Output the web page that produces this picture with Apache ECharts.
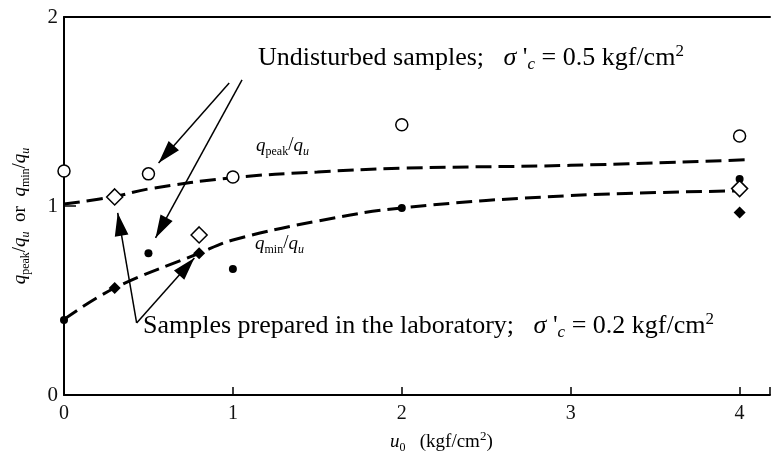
<!DOCTYPE html>
<html>
<head>
<meta charset="utf-8">
<script src="https://cdn.jsdelivr.net/npm/echarts@6/dist/echarts.min.js"></script>
<style>
  html, body { margin: 0; padding: 0; background: #fff; }
  #chart { width: 773px; height: 457px; }
</style>
</head>
<body>
<div id="chart"></div>
<script>
// x ticks (u0, kgf/cm2) and y ticks (q ratio)
const xTicks = [0, 1, 2, 3, 4]
const yTicks = [0, 1, 2]

// undisturbed samples: open circle = q_peak/q_u, filled dot = q_min/q_u
const undX = [0, 0.5, 1, 2, 4]
const undPeak = [1.185, 1.17, 1.153, 1.43, 1.37]
const undMin = [0.397, 0.75, 0.667, 0.99, 1.143]

// laboratory samples: open diamond = q_peak/q_u, filled diamond = q_min/q_u
const labX = [0.3, 0.8, 4]
const labPeak = [1.048, 0.847, 1.092]
const labMin = [0.566, 0.75, 0.966]

// dashed trend curves
const peakFitX = [0, 0.3, 0.5, 1, 1.5, 2, 3, 4.05]
const peakFitY = [1.01, 1.05, 1.09, 1.15, 1.18, 1.2, 1.215, 1.245]
const minFitX = [0, 0.3, 0.8, 1.0, 1.5, 2, 3, 4]
const minFitY = [0.4, 0.566, 0.75, 0.82, 0.92, 0.99, 1.055, 1.08]

// annotation arrows [fromX, fromY, toX, toY] in data units
const arrows = [
    [0.978, 1.651, 0.56, 1.228],
    [1.054, 1.667, 0.542, 0.831],
    [0.43, 0.381, 0.318, 0.963],
    [0.43, 0.381, 0.772, 0.725]
]

const zip = (xs, ys) => xs.map((x, i) => [x, ys[i]])

const SERIF = '"Liberation Serif", "Times New Roman", serif'

// arrow head: tip sits in the middle of a square box so it lands on the end point
const ARROW_HEAD = 'path://M-20,0L-20,0.01L-19.99,0ZM20,0L20,0.01L19.99,0ZM0,20L-6,40L6,40Z'

let richBig = {
    a: { fontFamily: SERIF, fontSize: 26, lineHeight: 30, color: '#111' },
    s: { fontFamily: SERIF, fontSize: 26, fontStyle: 'italic', lineHeight: 30, color: '#111' },
    c: { fontFamily: SERIF, fontSize: 17, fontStyle: 'italic', lineHeight: 6, verticalAlign: 'bottom', color: '#111' },
    sup: { fontFamily: SERIF, fontSize: 17, lineHeight: 24, verticalAlign: 'top', color: '#111' }
}

let richQ = {
    q: { fontFamily: SERIF, fontSize: 19, fontStyle: 'italic', lineHeight: 24, color: '#111' },
    n: { fontFamily: SERIF, fontSize: 19, lineHeight: 24, color: '#111' },
    sub: { fontFamily: SERIF, fontSize: 12, lineHeight: 8, verticalAlign: 'bottom', color: '#111' },
    subi: { fontFamily: SERIF, fontSize: 12, fontStyle: 'italic', lineHeight: 8, verticalAlign: 'bottom', color: '#111' },
    sup: { fontFamily: SERIF, fontSize: 13, lineHeight: 18, verticalAlign: 'top', color: '#111' }
}

let myChart = echarts.init(document.getElementById('chart'), null, { renderer: 'canvas' })

let option = {
    animation: false,
    backgroundColor: '#fff',
    grid: { left: 64, right: 0, top: 17, bottom: 62 },
    xAxis: [
        {
            type: 'value',
            min: xTicks[0],
            max: 4.18,
            interval: 1,
            axisLine: { lineStyle: { color: '#000', width: 2 } },
            axisTick: { inside: true, length: 8, lineStyle: { color: '#000', width: 1.5 } },
            splitLine: { show: false },
            axisLabel: {
                margin: 9,
                fontFamily: SERIF,
                fontSize: 20,
                color: '#111',
                formatter: v => (xTicks.indexOf(v) >= 0 ? String(v) : '')
            }
        },
        {
            // top border line
            type: 'value',
            position: 'top',
            min: 0,
            max: 4.18,
            axisLine: { show: true, lineStyle: { color: '#000', width: 2 } },
            axisTick: { show: false },
            axisLabel: { show: false },
            splitLine: { show: false }
        }
    ],
    yAxis: {
        type: 'value',
        min: yTicks[0],
        max: yTicks[yTicks.length - 1],
        interval: 1,
        axisLine: { show: true, lineStyle: { color: '#000', width: 2 } },
        axisTick: { inside: true, length: 12, lineStyle: { color: '#000', width: 1.5 } },
        splitLine: { show: false },
        axisLabel: { margin: 6, fontFamily: SERIF, fontSize: 21, color: '#111' }
    },
    graphic: [
        {
            type: 'text', left: 258, top: 43, silent: true,
            style: {
                text: '{a|Undisturbed samples;   }{s|σ}{a| \'}{c|c}{a| = 0.5 kgf/cm}{sup|2}',
                rich: richBig
            }
        },
        {
            type: 'text', left: 143, top: 311, silent: true,
            style: {
                text: '{a|Samples prepared in the laboratory;   }{s|σ}{a| \'}{c|c}{a| = 0.2 kgf/cm}{sup|2}',
                rich: richBig
            }
        },
        {
            type: 'text', left: 256, top: 136, silent: true,
            style: { text: '{q|q}{sub|peak}{n|/}{q|q}{subi|u}', rich: richQ }
        },
        {
            type: 'text', left: 255, top: 234, silent: true,
            style: { text: '{q|q}{sub|min}{n|/}{q|q}{subi|u}', rich: richQ }
        },
        {
            type: 'text', x: 20, y: 216, rotation: Math.PI / 2, silent: true,
            style: {
                text: '{q|q}{sub|peak}{n|/}{q|q}{subi|u}{n|  or  }{q|q}{sub|min}{n|/}{q|q}{subi|u}',
                rich: richQ,
                align: 'center',
                verticalAlign: 'middle'
            }
        },
        {
            type: 'text', left: 390, top: 430, silent: true,
            style: { text: '{q|u}{sub|0}{n|   (kgf/cm}{sup|2}{n|)}', rich: richQ }
        }
    ],
    series: [
        {
            type: 'line',
            data: zip(peakFitX, peakFitY),
            smooth: 0.4,
            showSymbol: false,
            lineStyle: { color: '#000', width: 3, type: [16, 7] },
            z: 2
        },
        {
            type: 'line',
            data: zip(minFitX, minFitY),
            smooth: 0.4,
            showSymbol: false,
            lineStyle: { color: '#000', width: 3, type: [16, 7] },
            z: 2
        },
        {
            type: 'scatter',
            data: zip(undX, undPeak),
            symbol: 'circle',
            symbolSize: 12,
            itemStyle: { color: '#fff', borderColor: '#000', borderWidth: 1.5, opacity: 1 },
            z: 5
        },
        {
            type: 'scatter',
            data: zip(undX, undMin),
            symbol: 'circle',
            symbolSize: 8,
            itemStyle: { color: '#000', opacity: 1 },
            z: 5,
            markLine: {
                silent: true,
                symbol: ['none', ARROW_HEAD],
                symbolSize: 46,
                label: { show: false },
                lineStyle: { color: '#000', width: 1.5, type: 'solid', opacity: 1 },
                data: arrows.map(a => [{ coord: [a[0], a[1]] }, { coord: [a[2], a[3]] }])
            }
        },
        {
            type: 'scatter',
            data: zip(labX, labPeak),
            symbol: 'diamond',
            symbolSize: 16,
            itemStyle: { color: '#fff', borderColor: '#000', borderWidth: 1.5, opacity: 1 },
            z: 5
        },
        {
            type: 'scatter',
            data: zip(labX, labMin),
            symbol: 'diamond',
            symbolSize: 12,
            itemStyle: { color: '#000', opacity: 1 },
            z: 5
        }
    ]
}

myChart.setOption(option)
</script>
</body>
</html>
